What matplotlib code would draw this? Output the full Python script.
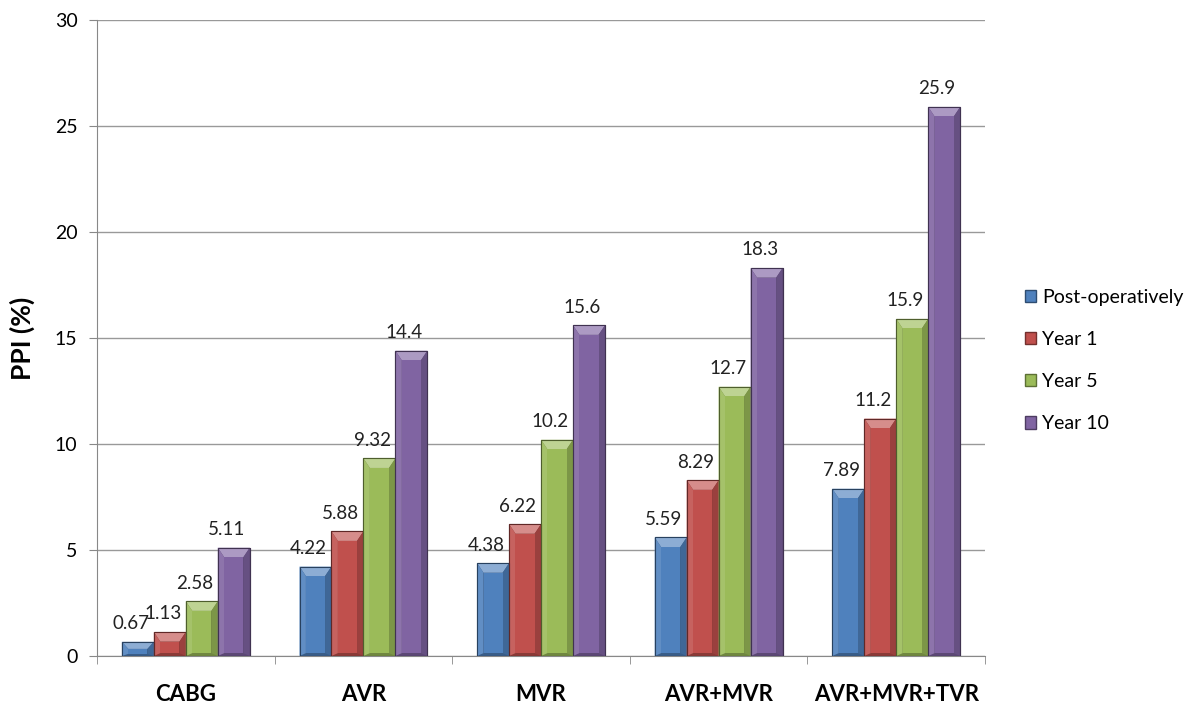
import numpy as np
import matplotlib.pyplot as plt
from matplotlib.patches import Polygon, Patch
import matplotlib.colors as mcolors

plt.rcParams['font.family'] = ['Lato', 'DejaVu Sans']

categories = ["CABG", "AVR", "MVR", "AVR+MVR", "AVR+MVR+TVR"]
series = ["Post-operatively", "Year 1", "Year 5", "Year 10"]
post_op = [0.67, 4.22, 4.38, 5.59, 7.89]
year1 = [1.13, 5.88, 6.22, 8.29, 11.2]
year5 = [2.58, 9.32, 10.2, 12.7, 15.9]
year10 = [5.11, 14.4, 15.6, 18.3, 25.9]
colors = ["#4F81BD", "#C0504D", "#9BBB59", "#8064A2"]


def shade(c, f):
    r = np.array(mcolors.to_rgb(c))
    if f < 1:
        return tuple(r * f)
    return tuple(r + (1 - r) * (f - 1))


fig = plt.figure(figsize=(11.92, 7.04), dpi=100)
ax = fig.add_axes([0.0814, 0.0682, 0.745, 0.9034])

x = np.arange(len(categories))
w = 0.18
data = [post_op, year1, year5, year10]

for i, (vals, col) in enumerate(zip(data, colors)):
    bars = ax.bar(x + (i - 1.5) * w, vals, w, color=shade(col, 0.72),
                  edgecolor=shade(col, 0.55), linewidth=0.8, zorder=3)
    for b, v in zip(bars, vals):
        x0, x1 = b.get_x(), b.get_x() + b.get_width()
        h = b.get_height()
        ins = b.get_width() * 0.2
        dy = min(h * 0.5, 0.45)
        # bevel faces
        ax.add_patch(Polygon([(x0, h), (x1, h), (x1 - ins, h - dy), (x0 + ins, h - dy)],
                             closed=True, facecolor=shade(col, 1.35), edgecolor='none', zorder=4))
        ax.add_patch(Polygon([(x0, 0), (x0 + ins, dy * 0.3), (x0 + ins, h - dy), (x0, h)],
                             closed=True, facecolor=shade(col, 1.1), edgecolor='none', zorder=4))
        ax.add_patch(Polygon([(x1, 0), (x1 - ins, dy * 0.3), (x1 - ins, h - dy), (x1, h)],
                             closed=True, facecolor=shade(col, 0.8), edgecolor='none', zorder=4))
        ax.add_patch(Polygon([(x0 + ins, h - dy), (x1 - ins, h - dy), (x1 - ins, dy * 0.3), (x0 + ins, dy * 0.3)],
                             closed=True, facecolor=col, edgecolor='none', zorder=4))
        ax.add_patch(Polygon([(x0, h), (x1, h), (x1, 0), (x0, 0)],
                             closed=True, facecolor='none', edgecolor=shade(col, 0.5), linewidth=0.8, zorder=5))
        ax.text(b.get_x() + b.get_width() / 2 - 0.04, h + 0.45, f"{v:g}", ha='center', va='bottom',
                fontsize=13.5, color='#222222', zorder=6)

ax.set_xlim(-0.5, len(categories) - 0.5)
ax.set_ylim(0, 30)
ax.set_yticks(np.arange(0, 31, 5))
ax.set_xticks(x)
ax.set_xticklabels(categories, fontsize=16, fontweight='bold')
ax.set_xticks(np.arange(-0.5, len(categories), 1), minor=True)
ax.tick_params(axis='x', which='major', length=0, pad=20)
ax.tick_params(axis='x', which='minor', length=6, color='#888888')
ax.tick_params(axis='y', length=6, color='#888888', labelsize=14, pad=8)
ax.set_ylabel("PPI (%)", fontsize=19, fontweight='bold', labelpad=14)

ax.grid(axis='y', color='#999999', linewidth=1, zorder=0)
for s in ['top', 'right']:
    ax.spines[s].set_visible(False)
ax.spines['left'].set_color('#888888')
ax.spines['bottom'].set_color('#888888')

handles = [Patch(facecolor=c, edgecolor=shade(c, 0.6)) for c in colors]
fig.legend(handles, series, loc='upper left', bbox_to_anchor=(0.845, 0.615),
           frameon=False, fontsize=14, handlelength=0.6, handleheight=0.6,
           handletextpad=0.3, labelspacing=1.3)

fig.savefig("out.png", dpi=100)
